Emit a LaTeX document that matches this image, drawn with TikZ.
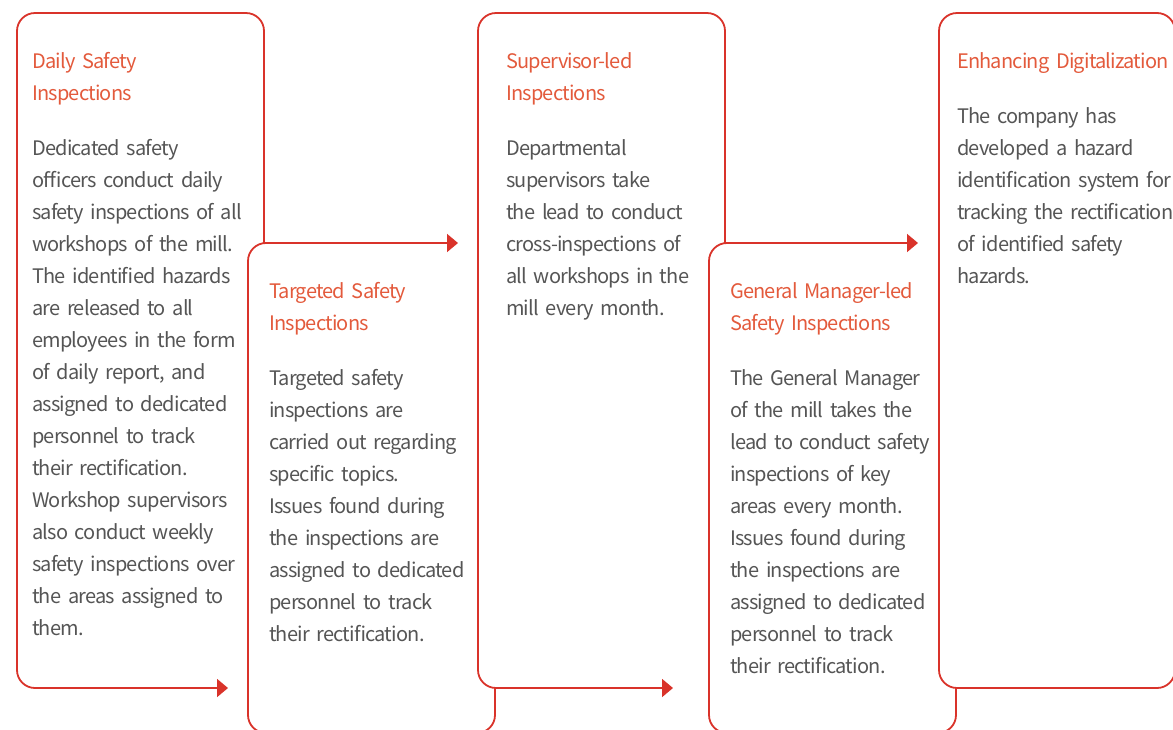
\documentclass[tikz,border=0pt]{standalone}
\usepackage{fontspec}
\setmainfont[LetterSpace=-4,WordSpace=0.75]{Noto Sans CJK SC}
\usetikzlibrary{arrows.meta}
\definecolor{lnred}{HTML}{D9332A}
\definecolor{ttlred}{HTML}{E35A3C}
\definecolor{bodygray}{HTML}{555555}
\tikzset{
  ln/.style={draw=lnred, line width=1.8pt, rounded corners=18pt},
  arr/.style={-{Triangle[length=11pt,width=18pt]}},
  ttl/.style={anchor=base west, inner sep=0pt, text width=260pt, align=left,
    text=ttlred, font=\fontsize{20}{32}\selectfont},
  bdy/.style={anchor=base west, inner sep=0pt, text width=260pt, align=left,
    text=bodygray, font=\fontsize{20}{32}\selectfont},
}
\begin{document}
\begin{tikzpicture}[x=1pt,y=-1pt]
\useasboundingbox (0,0) rectangle (1173,729);
\clip (0,0) rectangle (1173,729);
% box 1
\draw[ln,arr] (264,243) -- (264,13) -- (17,13) -- (17,688) -- (228,688);
% box 2
\draw[ln,arr] (495,688) -- (495,733) -- (248,733) -- (248,243) -- (458,243);
% box 3
\draw[ln,arr] (725,243) -- (725,13) -- (478,13) -- (478,688) -- (673,688);
% box 4
\draw[ln,arr] (956,688) -- (956,733) -- (709,733) -- (709,243) -- (918,243);
% box 5
\draw[ln] (939,13) rectangle (1175,688);

\node[ttl] (t1) at (32,68.5) {Daily Safety\\Inspections};
\node[bdy] (b1) at (32,155.5) {Dedicated safety\\officers conduct daily\\safety inspections of all\\workshops of the mill.\\The identified hazards\\are released to all\\employees in the form\\of daily report, and\\assigned to dedicated\\personnel to track\\their rectification.\\Workshop supervisors\\also conduct weekly\\safety inspections over\\the areas assigned to\\them.};

\node[ttl] (t2) at (269,298.5) {Targeted Safety\\Inspections};
\node[bdy] (b2) at (269,385.5) {Targeted safety\\inspections are\\carried out regarding\\specific topics.\\Issues found during\\the inspections are\\assigned to dedicated\\personnel to track\\their rectification.};

\node[ttl] (t3) at (506,68.5) {Supervisor-led\\Inspections};
\node[bdy] (b3) at (506,155.5) {Departmental\\supervisors take\\the lead to conduct\\cross-inspections of\\all workshops in the\\mill every month.};

\node[ttl] (t4) at (730,298.5) {General Manager-led\\Safety Inspections};
\node[bdy] (b4) at (730,385.5) {The General Manager\\of the mill takes the\\lead to conduct safety\\inspections of key\\areas every month.\\Issues found during\\the inspections are\\assigned to dedicated\\personnel to track\\their rectification.};

\node[ttl] (t5) at (957,68.5) {Enhancing Digitalization};
\node[bdy] (b5) at (957,123.5) {The company has\\developed a hazard\\identification system for\\tracking the rectification\\of identified safety\\hazards.};
\end{tikzpicture}
\end{document}
